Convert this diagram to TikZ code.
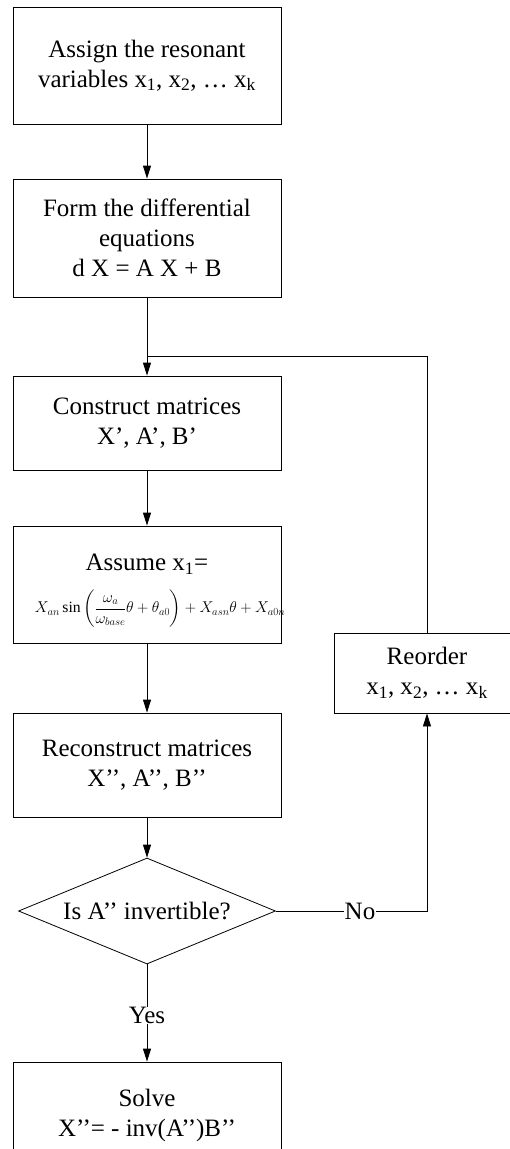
\documentclass[tikz,border=0pt]{standalone}
\usepackage{fontspec}
\setmainfont{Liberation Serif}
\usepackage{amsmath}
\usepackage{graphicx}
\usetikzlibrary{arrows.meta,shapes.geometric}
\begin{document}
\begin{tikzpicture}[x=1pt,y=-1pt,
  every node/.style={font=\fontsize{25}{30}\selectfont, align=center, inner sep=0pt},
  stepbox/.style={draw, line width=0.8pt, rectangle, minimum width=268pt},
  decide/.style={draw, line width=0.8pt, diamond, aspect=2.42, minimum width=257pt, minimum height=106pt},
  conn/.style={line width=0.8pt},
  arr/.style={conn, -{Triangle[length=13pt,width=8pt]}}]
\useasboundingbox (0,0) rectangle (510,1149);
\clip (0,0) rectangle (510,1149);
\node[stepbox, minimum height=117pt] (b1) at (147,65.5) {Assign the resonant\\variables x\textsubscript{1}, x\textsubscript{2}, … x\textsubscript{k}};
\node[stepbox, minimum height=118pt] (b2) at (147,238) {Form the differential\\equations\\d X = A X + B};
\node[stepbox, minimum height=94pt] (b3) at (147,423) {Construct matrices\\X’, A’, B’};
\node[stepbox, minimum height=117pt] (b4) at (147,584.5) {};
\node (b4t) at (147,564) {Assume x\textsubscript{1}=};
\node (b4f) at (160,609) {\resizebox{250pt}{!}{$X_{an}\sin\left(\dfrac{\omega_a}{\omega_{base}}\theta+\theta_{a0}\right)+X_{asn}\theta+X_{a0n}$}};
\node[stepbox, minimum height=104pt] (b5) at (147,765) {Reconstruct matrices\\X’’, A’’, B’’};
\node[decide] (d) at (147,911) {Is A’’ invertible?};
\node[draw, line width=0.8pt, minimum width=186pt, minimum height=80pt] (r) at (427,673) {Reorder\\x\textsubscript{1}, x\textsubscript{2}, … x\textsubscript{k}};
\node[stepbox, minimum height=106pt] (b6) at (147,1115) {Solve\\X’’= - inv(A’’)B’’};
\node (yes) at (147,1015) {Yes};
\node[fill=white, inner sep=1pt] (no) at (360,911) {No};
\coordinate (j) at (147,356);
\coordinate (jr) at (427,356);
\coordinate (nr) at (427,911);
\draw[arr] (b1) -- (b2);
\draw[arr] (b2) -- (b3);
\draw[conn] (r.north) -- (jr) -- (j);
\draw[arr] (b3) -- (b4);
\draw[arr] (b4) -- (b5);
\draw[arr] (b5) -- (d);
\draw[conn] (d.south) -- (yes.north);
\draw[arr] (yes.south) -- (b6.north);
\draw[conn] (d.east) -- (no.west);
\draw[arr] (no.east) -- (nr) -- (r.south);
\end{tikzpicture}
\end{document}
